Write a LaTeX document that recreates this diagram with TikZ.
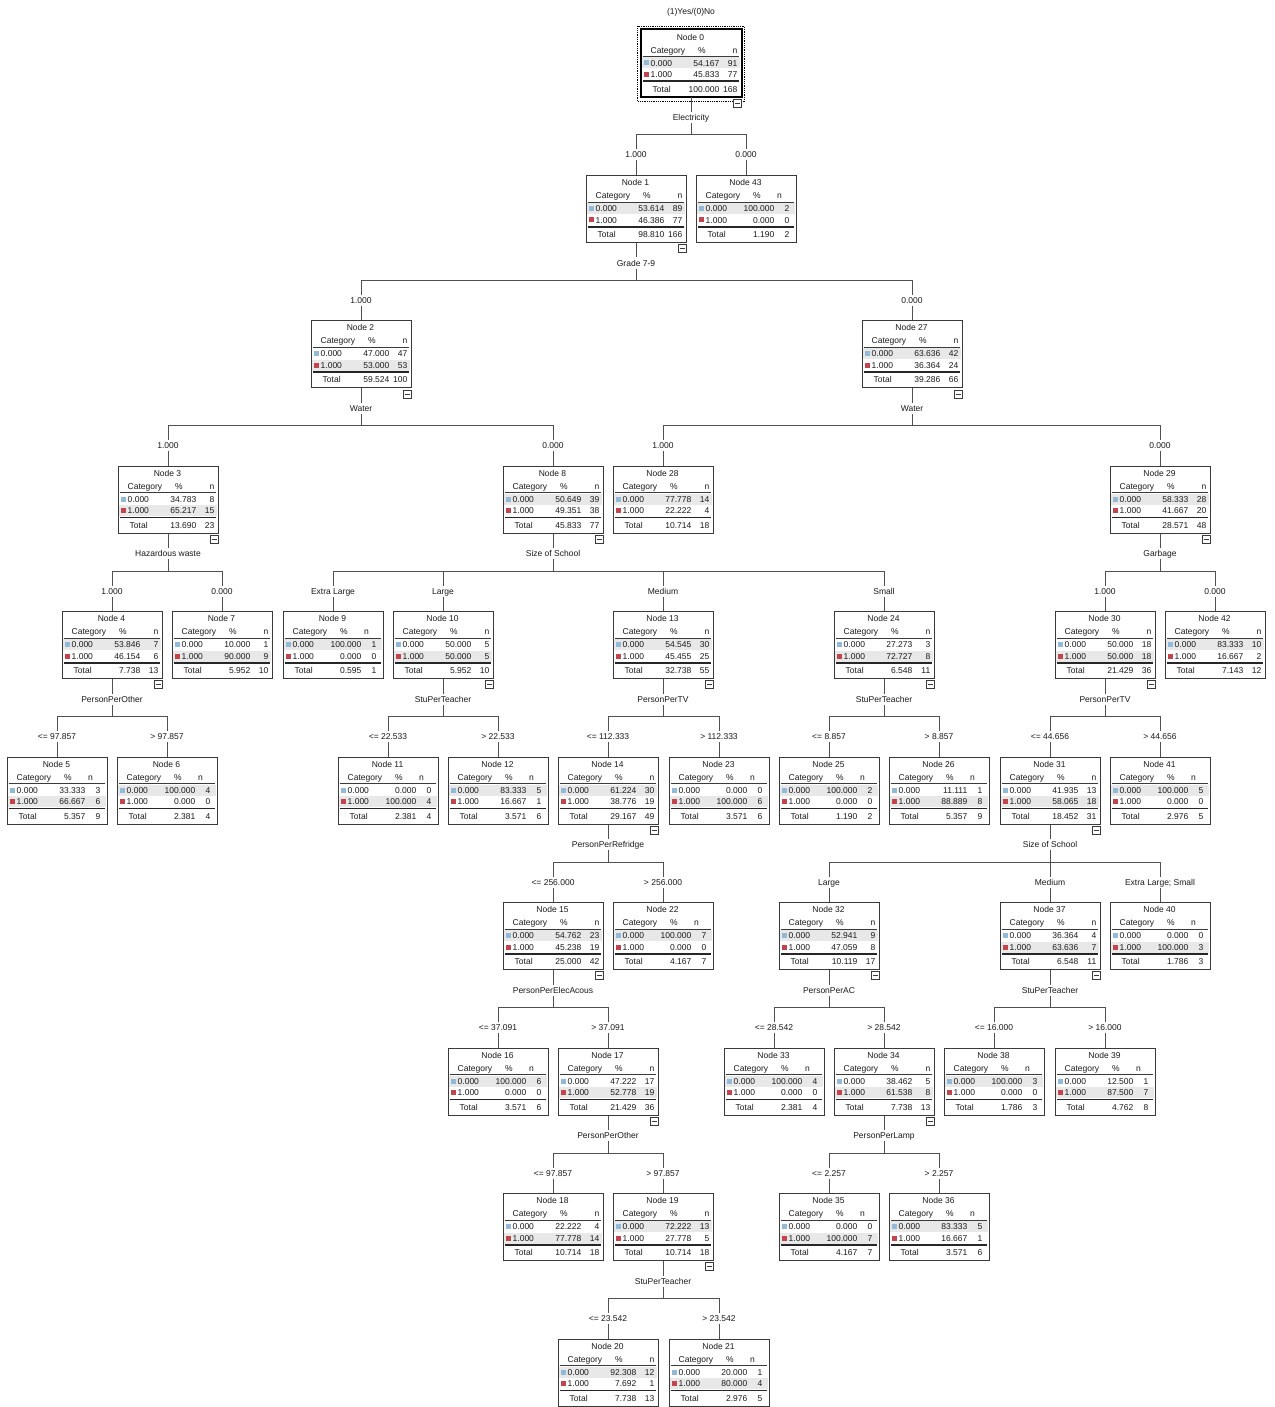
\documentclass[tikz,border=0pt]{standalone}
\usepackage{fontspec}
\setmainfont{Liberation Sans}
\usetikzlibrary{calc}
\definecolor{cblue}{HTML}{92BAD8}
\definecolor{cred}{HTML}{C2444C}
\definecolor{hlc}{HTML}{E8E8E8}
\definecolor{boxc}{HTML}{3A3A3A}
\definecolor{connc}{HTML}{505050}
\definecolor{txtc}{HTML}{1A1A1A}
\newcommand\tfont{\fontsize{8.5}{10}\selectfont}
\tikzset{
  box/.style={draw=boxc, line width=1pt, minimum width=100pt, minimum height=67pt, inner sep=0pt, fill=white},
  txt/.style={font=\tfont, inner sep=0pt, text height=7.6pt, text depth=1.5pt, text=txtc},
  lab/.style={txt, fill=white, inner xsep=1pt, inner ysep=1pt},
  conn/.style={draw=connc, line width=1pt},
  thinrule/.style={draw=boxc, line width=0.8pt},
  thickrule/.style={draw=black!85, line width=1.6pt},
  icon/.style={draw=boxc, line width=0.8pt, fill=white}
}
% #1 number, #2 x, #3 level, #4 p0, #5 n0, #6 p1, #7 n1, #8 ptot, #9 ntot
\newcommand\tnode[9]{%
  \pgfmathsetmacro\tY{30+145.45*#3+33.5}%
  \node[box] (n#1) at (#2,\tY) {};
  \ifnum#9<10\relax \def\nx{94}\def\nhx{84}\def\nha{center}\else \def\nx{97}\def\nhx{97}\def\nha{east}\fi
  \begin{scope}[shift={(n#1.north west)}]
    \ifnum#5>#7\relax \fill[hlc] (1,28) rectangle (99,39);\else \fill[hlc] (1,39.5) rectangle (99,50.5);\fi
    \node[txt] (n#1-t) at (50,7.5) {Node #1};
    \node[txt,anchor=west] (n#1-hc) at (10,20.5) {Category};
    \node[txt] (n#1-hp) at (61.5,20.5) {\%};
    \node[txt,anchor=\nha] (n#1-hn) at (\nhx,20.5) {n};
    \draw[thinrule] (2,27) -- (98,27);
    \fill[cblue] (3.5,31) rectangle (8,36);
    \node[txt,anchor=west] (n#1-c0) at (10,33.5) {0.000};
    \node[txt,anchor=east] (n#1-p0) at (79,33.5) {#4};
    \node[txt,anchor=east] (n#1-k0) at (\nx,33.5) {#5};
    \fill[cred] (3.5,42.5) rectangle (8,47.5);
    \node[txt,anchor=west] (n#1-c1) at (10,45) {1.000};
    \node[txt,anchor=east] (n#1-p1) at (79,45) {#6};
    \node[txt,anchor=east] (n#1-k1) at (\nx,45) {#7};
    \draw[thickrule] (2,51.8) -- (98,51.8);
    \node[txt,anchor=west] (n#1-ct) at (12,59.5) {Total};
    \node[txt,anchor=east] (n#1-pt) at (79,59.5) {#8};
    \node[txt,anchor=east] (n#1-kt) at (\nx,59.5) {#9};
  \end{scope}}
% #1 parent, #2 child, #3 branch label
\newcommand\tconn[3]{%
  \draw[conn] (n#1.south) |- ($(n#2.north)+(0,-40)$) -- (n#2.north);
  \node[lab] (b#2) at ($(n#2.north)+(0,-20)$) {#3};}
% #1 parent, #2 split label
\newcommand\tsplit[2]{%
  \node[lab] (s#1) at ($(n#1.south)+(0,20)$) {#2};
  \draw[icon] ($(n#1.south east)+(-8.5,1.5)$) rectangle ($(n#1.south east)+(0,9.5)$);
  \draw[boxc, line width=0.8pt] ($(n#1.south east)+(-6.5,5.5)$) -- ($(n#1.south east)+(-2,5.5)$);}
\begin{document}
\begin{tikzpicture}[x=1pt,y=-1pt]
\fill[white] (0,0) rectangle (1274,1407);
\useasboundingbox (0,0) rectangle (1274,1407);
\node[txt] (title) at (691,11) {(1)Yes/(0)No};
% nodes
\tnode{0}{691}{0}{54.167}{91}{45.833}{77}{100.000}{168}
\tnode{1}{636}{1}{53.614}{89}{46.386}{77}{98.810}{166}
\tnode{43}{746}{1}{100.000}{2}{0.000}{0}{1.190}{2}
\tnode{2}{361}{2}{47.000}{47}{53.000}{53}{59.524}{100}
\tnode{27}{912}{2}{63.636}{42}{36.364}{24}{39.286}{66}
\tnode{3}{168}{3}{34.783}{8}{65.217}{15}{13.690}{23}
\tnode{8}{553}{3}{50.649}{39}{49.351}{38}{45.833}{77}
\tnode{28}{663}{3}{77.778}{14}{22.222}{4}{10.714}{18}
\tnode{29}{1160}{3}{58.333}{28}{41.667}{20}{28.571}{48}
\tnode{4}{112}{4}{53.846}{7}{46.154}{6}{7.738}{13}
\tnode{7}{222}{4}{10.000}{1}{90.000}{9}{5.952}{10}
\tnode{9}{333}{4}{100.000}{1}{0.000}{0}{0.595}{1}
\tnode{10}{443}{4}{50.000}{5}{50.000}{5}{5.952}{10}
\tnode{13}{663}{4}{54.545}{30}{45.455}{25}{32.738}{55}
\tnode{24}{884}{4}{27.273}{3}{72.727}{8}{6.548}{11}
\tnode{30}{1105}{4}{50.000}{18}{50.000}{18}{21.429}{36}
\tnode{42}{1215}{4}{83.333}{10}{16.667}{2}{7.143}{12}
\tnode{5}{57}{5}{33.333}{3}{66.667}{6}{5.357}{9}
\tnode{6}{167}{5}{100.000}{4}{0.000}{0}{2.381}{4}
\tnode{11}{388}{5}{0.000}{0}{100.000}{4}{2.381}{4}
\tnode{12}{498}{5}{83.333}{5}{16.667}{1}{3.571}{6}
\tnode{14}{608}{5}{61.224}{30}{38.776}{19}{29.167}{49}
\tnode{23}{719}{5}{0.000}{0}{100.000}{6}{3.571}{6}
\tnode{25}{829}{5}{100.000}{2}{0.000}{0}{1.190}{2}
\tnode{26}{939}{5}{11.111}{1}{88.889}{8}{5.357}{9}
\tnode{31}{1050}{5}{41.935}{13}{58.065}{18}{18.452}{31}
\tnode{41}{1160}{5}{100.000}{5}{0.000}{0}{2.976}{5}
\tnode{15}{553}{6}{54.762}{23}{45.238}{19}{25.000}{42}
\tnode{22}{663}{6}{100.000}{7}{0.000}{0}{4.167}{7}
\tnode{32}{829}{6}{52.941}{9}{47.059}{8}{10.119}{17}
\tnode{37}{1050}{6}{36.364}{4}{63.636}{7}{6.548}{11}
\tnode{40}{1160}{6}{0.000}{0}{100.000}{3}{1.786}{3}
\tnode{16}{498}{7}{100.000}{6}{0.000}{0}{3.571}{6}
\tnode{17}{608}{7}{47.222}{17}{52.778}{19}{21.429}{36}
\tnode{33}{774}{7}{100.000}{4}{0.000}{0}{2.381}{4}
\tnode{34}{884}{7}{38.462}{5}{61.538}{8}{7.738}{13}
\tnode{38}{994}{7}{100.000}{3}{0.000}{0}{1.786}{3}
\tnode{39}{1105}{7}{12.500}{1}{87.500}{7}{4.762}{8}
\tnode{18}{553}{8}{22.222}{4}{77.778}{14}{10.714}{18}
\tnode{19}{663}{8}{72.222}{13}{27.778}{5}{10.714}{18}
\tnode{35}{829}{8}{0.000}{0}{100.000}{7}{4.167}{7}
\tnode{36}{939}{8}{83.333}{5}{16.667}{1}{3.571}{6}
\tnode{20}{608}{9}{92.308}{12}{7.692}{1}{7.738}{13}
\tnode{21}{719}{9}{20.000}{1}{80.000}{4}{2.976}{5}
% root emphasis
\draw[black, line width=2pt] (n0.north west) rectangle (n0.south east);
\draw[black, densely dotted, line width=0.8pt] ($(n0.north west)+(-3,-3)$) rectangle ($(n0.south east)+(3,4)$);
% connectors
\tconn{0}{1}{1.000}
\tconn{0}{43}{0.000}
\tconn{1}{2}{1.000}
\tconn{1}{27}{0.000}
\tconn{2}{3}{1.000}
\tconn{2}{8}{0.000}
\tconn{27}{28}{1.000}
\tconn{27}{29}{0.000}
\tconn{3}{4}{1.000}
\tconn{3}{7}{0.000}
\tconn{8}{9}{Extra Large}
\tconn{8}{10}{Large}
\tconn{8}{13}{Medium}
\tconn{8}{24}{Small}
\tconn{29}{30}{1.000}
\tconn{29}{42}{0.000}
\tconn{4}{5}{<= 97.857}
\tconn{4}{6}{> 97.857}
\tconn{10}{11}{<= 22.533}
\tconn{10}{12}{> 22.533}
\tconn{13}{14}{<= 112.333}
\tconn{13}{23}{> 112.333}
\tconn{24}{25}{<= 8.857}
\tconn{24}{26}{> 8.857}
\tconn{30}{31}{<= 44.656}
\tconn{30}{41}{> 44.656}
\tconn{14}{15}{<= 256.000}
\tconn{14}{22}{> 256.000}
\tconn{31}{32}{Large}
\tconn{31}{37}{Medium}
\tconn{31}{40}{Extra Large; Small}
\tconn{15}{16}{<= 37.091}
\tconn{15}{17}{> 37.091}
\tconn{32}{33}{<= 28.542}
\tconn{32}{34}{> 28.542}
\tconn{37}{38}{<= 16.000}
\tconn{37}{39}{> 16.000}
\tconn{17}{18}{<= 97.857}
\tconn{17}{19}{> 97.857}
\tconn{34}{35}{<= 2.257}
\tconn{34}{36}{> 2.257}
\tconn{19}{20}{<= 23.542}
\tconn{19}{21}{> 23.542}
% split labels and collapse icons
\tsplit{0}{Electricity}
\tsplit{1}{Grade 7-9}
\tsplit{2}{Water}
\tsplit{27}{Water}
\tsplit{3}{Hazardous waste}
\tsplit{8}{Size of School}
\tsplit{29}{Garbage}
\tsplit{4}{PersonPerOther}
\tsplit{10}{StuPerTeacher}
\tsplit{13}{PersonPerTV}
\tsplit{24}{StuPerTeacher}
\tsplit{30}{PersonPerTV}
\tsplit{14}{PersonPerRefridge}
\tsplit{31}{Size of School}
\tsplit{15}{PersonPerElecAcous}
\tsplit{32}{PersonPerAC}
\tsplit{37}{StuPerTeacher}
\tsplit{17}{PersonPerOther}
\tsplit{34}{PersonPerLamp}
\tsplit{19}{StuPerTeacher}
\end{tikzpicture}
\end{document}
